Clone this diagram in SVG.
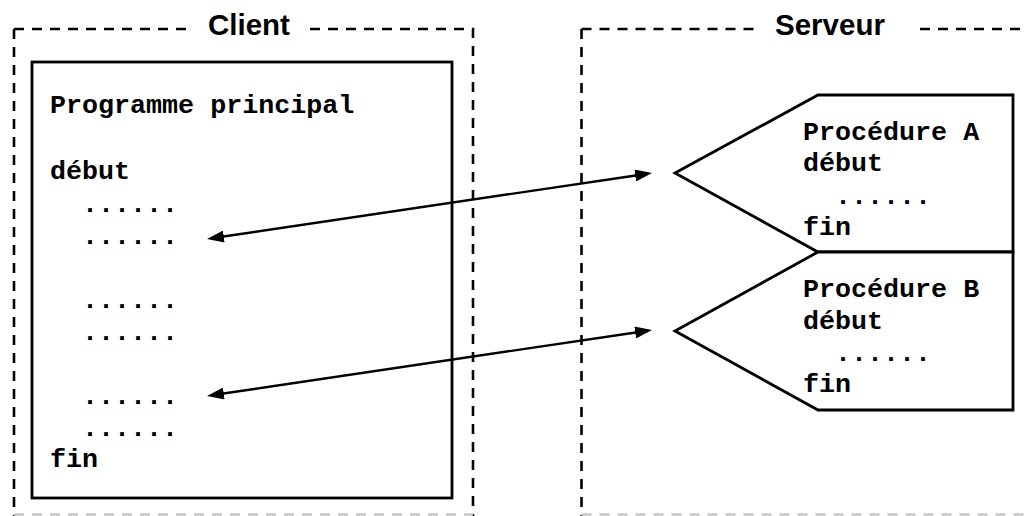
<svg xmlns="http://www.w3.org/2000/svg" width="1027" height="516" viewBox="0 0 1027 516">
<style>
.dash{fill:none;stroke:#000;stroke-width:2.6;stroke-dasharray:10 8}
.dashlight{fill:none;stroke:#c8c8c8;stroke-width:2.6;stroke-dasharray:10 8}
.box{fill:#fff;stroke:#000;stroke-width:2.8;stroke-linejoin:miter}
.title{font-family:"Liberation Sans",Arial,sans-serif;font-weight:bold;font-size:29.5px;fill:#000}
.code{font-family:"Liberation Mono","Courier New",monospace;font-weight:bold;font-size:26.7px;fill:#000}
.conn{stroke:#000;stroke-width:2.4;fill:none}
</style>
<defs>
<marker id="ah" viewBox="0 0 17 12" markerWidth="17" markerHeight="12" refX="9" refY="6" orient="auto-start-reverse" markerUnits="userSpaceOnUse">
<path d="M0,0 L17,6 L0,12 z" fill="#000"/>
</marker>
</defs>
<rect width="1027" height="516" fill="#fff"/>
<g id="client">
<path class="dash" d="M14,29 H186 M310,29 H473 V516 M14,29 V516"/>
<path class="dashlight" d="M14,514.5 H473"/>
<text class="title" x="208" y="35">Client</text>
</g>
<g id="serveur">
<path class="dash" d="M581.5,29 H757 M920,29 H1027 M581.5,29 V516"/>
<path class="dashlight" d="M581.5,514.5 H1027"/>
<text class="title" x="775" y="35">Serveur</text>
</g>
<g id="programme">
<rect class="box" x="32" y="62" width="420" height="436"/>
<text class="code" x="50" y="113">Programme principal</text>
<text class="code" x="50" y="179">début</text>
<text class="code" x="82" y="211.5">......</text>
<text class="code" x="82" y="243.5">......</text>
<text class="code" x="82" y="307.5">......</text>
<text class="code" x="82" y="339.5">......</text>
<text class="code" x="82" y="403.5">......</text>
<text class="code" x="82" y="435.5">......</text>
<text class="code" x="50" y="467">fin</text>
</g>
<g id="procedureA">
<path class="box" d="M818,95 H1013 V252 H818 L675,173 Z"/>
<text class="code" x="803" y="140">Procédure A</text>
<text class="code" x="803" y="171">début</text>
<text class="code" x="835" y="204">......</text>
<text class="code" x="803" y="235">fin</text>
</g>
<g id="procedureB">
<path class="box" d="M818,252 H1013 V410 H818 L675,331 Z"/>
<text class="code" x="803" y="297">Procédure B</text>
<text class="code" x="803" y="328.5">début</text>
<text class="code" x="835" y="360.5">......</text>
<text class="code" x="803" y="392">fin</text>
</g>
<g id="connectors">
<line class="conn" x1="214.9" y1="237.8" x2="644.1" y2="174.2" marker-start="url(#ah)" marker-end="url(#ah)"/>
<line class="conn" x1="214.9" y1="394.8" x2="644.1" y2="331.2" marker-start="url(#ah)" marker-end="url(#ah)"/>
</g>
</svg>
